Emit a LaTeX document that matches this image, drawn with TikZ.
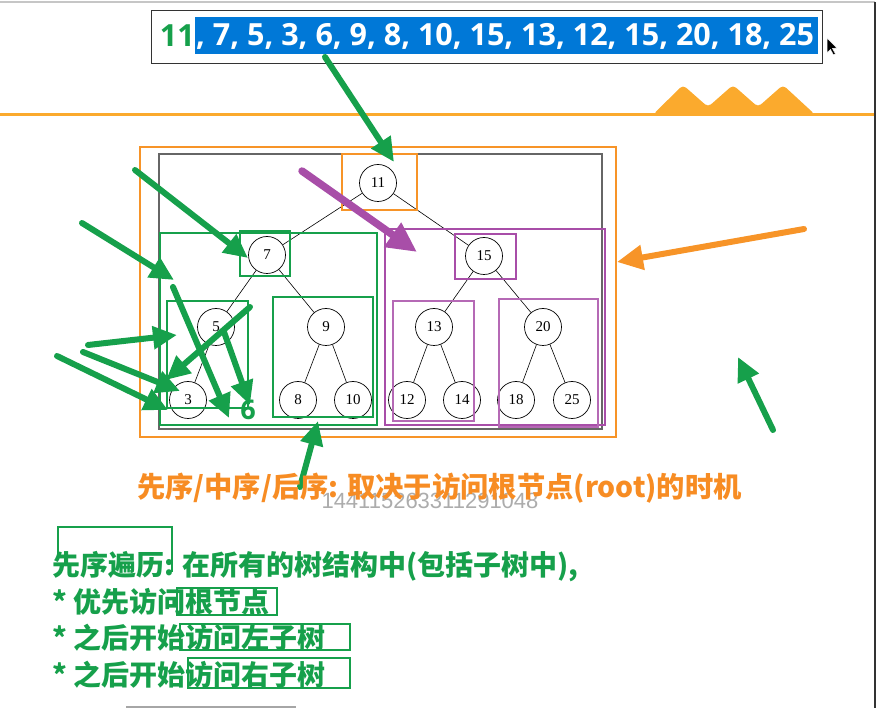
\documentclass[tikz,border=0pt]{standalone}
\usepackage{xcolor}
\usepackage{fontspec}
\setmainfont{Liberation Serif}
\newfontfamily\cjkfont{Noto Sans CJK SC}
\newfontfamily\uifont{Open Sans}
\newfontfamily\numfont{Liberation Sans}
\usepackage{tikz}
\usetikzlibrary{arrows.meta,positioning}

\definecolor{boxorange}{RGB}{247,148,40}
\definecolor{lineorange}{RGB}{251,170,45}
\definecolor{mkgreen}{RGB}{22,160,75}
\definecolor{mkpurple}{RGB}{168,78,168}
\definecolor{selblue}{RGB}{0,120,215}
\definecolor{txtorange}{RGB}{247,140,35}

\tikzset{
  tnode/.style={circle, draw, fill=white, line width=0.7pt, minimum size=37pt, inner sep=0pt, font=\fontsize{15}{15}\selectfont},
  tedge/.style={line width=0.6pt},
  gbox/.style={draw=mkgreen, line width=1.6pt},
  pbox/.style={draw=mkpurple, line width=1.6pt},
  obox/.style={draw=boxorange, line width=1.6pt},
  garrow/.style={draw=mkgreen, line width=6pt, line cap=round, -{Triangle[length=24pt,width=22pt]}},
  oarrow/.style={draw=boxorange, line width=6pt, line cap=round, -{Triangle[length=26pt,width=24pt]}},
  parrow/.style={draw=mkpurple, line width=7.5pt, line cap=round, -{Triangle[length=30pt,width=28pt]}},
  cjkline/.style={anchor=west, inner sep=0pt, font=\cjkfont\bfseries\fontsize{28}{28}\selectfont}
}

\begin{document}
\begin{tikzpicture}[x=1pt, y=-1pt]
    \useasboundingbox (0,0) rectangle (876,708);

    % Window frame
    \draw[gray!45, line width=1.5pt] (0,2) -- (875,2);
    \draw[black!80, line width=1.5pt] (875.2,2) -- (875.2,708);
    \draw[gray!70, line width=2pt] (126,706.5) -- (296,706.5);

    % Sequence box
    \node[draw=black!80, line width=1pt, minimum width=671pt, minimum height=53pt, anchor=north west, inner sep=0pt] (seqbox) at (151,10) {};
    \node[fill=selblue, minimum width=623pt, minimum height=37pt, anchor=north west, inner sep=0pt] (sel) at (195,17) {};
    \node[anchor=east, inner sep=0pt, text=mkgreen, font=\uifont\bfseries\fontsize{30.5}{30.5}\selectfont] (first) at (sel.west) {11};
    \node[anchor=west, inner sep=0pt, text=white, font=\uifont\bfseries\fontsize{30.5}{30.5}\selectfont] (rest) at ([xshift=1pt,yshift=-1pt]sel.west) {, 7, 5, 3, 6, 9, 8, 10, 15, 13, 12, 15, 20, 18, 25};
    % Mouse pointer
    \filldraw[fill=black, draw=white, line width=0.5pt] (827,38) -- (827,53) -- (830.5,49.5) -- (833.5,55) -- (835.5,54) -- (832.5,48.5) -- (837,48) -- cycle;

    % Orange rule and mountains
    \fill[lineorange, rounded corners=4pt] (653,114.5) -- (683,85) -- (708,107) -- (733,85) -- (758,107) -- (783,85) -- (815,114.5) -- cycle;
    \draw[lineorange, line width=3pt] (0,114.5) -- (874,114.5);

    % Outer boxes
    \draw[obox] (140,147) rectangle (616,437);
    \draw[black!60, line width=1.3pt] (159,154) rectangle (602,429);

    % Tree
    \node[tnode] (n11) at (378,183) {11};
    \node[tnode] (n7) at (267,255) {7};
    \node[tnode] (n15) at (484,256) {15};
    \node[tnode] (n5) at (216,327) {5};
    \node[tnode] (n9) at (326,327) {9};
    \node[tnode] (n13) at (434,327) {13};
    \node[tnode] (n20) at (543,327) {20};
    \node[tnode] (n3) at (188,400) {3};
    \node[tnode] (n8) at (298,400) {8};
    \node[tnode] (n10) at (353,400) {10};
    \node[tnode] (n12) at (407,400) {12};
    \node[tnode] (n14) at (462,400) {14};
    \node[tnode] (n18) at (516,400) {18};
    \node[tnode] (n25) at (572,400) {25};
    \foreach \a/\b in {n11/n7, n11/n15, n7/n5, n7/n9, n5/n3, n9/n8, n9/n10, n15/n13, n15/n20, n13/n12, n13/n14, n20/n18, n20/n25}
        \draw[tedge] (\a) -- (\b);

    % Subtree boxes
    \draw[obox] (342,154) rectangle (417,210);
    \draw[gbox] (160,233) rectangle (377,425);
    \draw[gbox] (240,231) rectangle (290,276);
    \draw[gbox] (167,301) rectangle (248,408);
    \draw[gbox] (273,297) rectangle (373,417);
    \draw[pbox] (385,229) rectangle (605,425);
    \draw[pbox] (455,234) rectangle (516,279);
    \draw[pbox, mkpurple!85] (393,301) rectangle (474,421);
    \draw[pbox, mkpurple!85] (499,299) rectangle (598,427);
    \node[text=mkgreen, inner sep=0pt, font=\uifont\bfseries\fontsize{27}{27}\selectfont] (six) at (248,410) {6};

    % Arrows
    \coordinate (g1s) at (325,57);   \coordinate (g1e) at (394,162);
    \coordinate (g2s) at (135,170);  \coordinate (g2e) at (248,258);
    \coordinate (g3s) at (82,223);   \coordinate (g3e) at (174,280);
    \coordinate (g4s) at (173,287);  \coordinate (g4e) at (229,418);
    \coordinate (g5s) at (250,307);  \coordinate (g5e) at (166,380);
    \coordinate (g6s) at (88,345);   \coordinate (g6e) at (177,335);
    \coordinate (g7s) at (83,352);   \coordinate (g7e) at (180,391);
    \coordinate (g8s) at (57,356);   \coordinate (g8e) at (168,410);
    \coordinate (g9s) at (224,332);  \coordinate (g9e) at (250,405);
    \coordinate (g10s) at (300,487); \coordinate (g10e) at (318,421);
    \coordinate (g11s) at (773,430); \coordinate (g11e) at (738,357);
    \coordinate (ps) at (302,171);   \coordinate (pe) at (417,252);
    \coordinate (os) at (804,229);   \coordinate (oe) at (617,262);
    \foreach \i in {1,...,11}
        \draw[garrow] (g\i s) -- (g\i e);
    \draw[parrow] (ps) -- (pe);
    \draw[oarrow] (os) -- (oe);

    % Texts below
    \node[anchor=center, inner sep=0pt, text=gray!65, font=\numfont\fontsize{22}{22}\selectfont] (stamp) at (430,501) {144115263311291048};
    \node[cjkline, text=txtorange, font=\cjkfont\bfseries\fontsize{28.3}{28.3}\selectfont] (order) at (137,488) {先序/中序/后序: 取决于访问根节点(root)的时机};

    \draw[mkgreen, line width=1.3pt] (58,555) -- (58,527) -- (172,527) -- (172,572);
    \draw[mkgreen, line width=1.3pt] (177,588) rectangle (277,615);
    \draw[mkgreen, line width=1.3pt] (180,624) rectangle (350,650);
    \draw[mkgreen, line width=1.3pt] (188,658) rectangle (350,688);
    \node[cjkline, text=mkgreen] (pre) at (52,567) {先序遍历: 在所有的树结构中(包括子树中),};
    \node[cjkline, text=mkgreen] (root) at (52,602) {* 优先访问根节点};
    \node[cjkline, text=mkgreen] (left) at (52,638) {* 之后开始访问左子树};
    \node[cjkline, text=mkgreen] (right) at (52,675) {* 之后开始访问右子树};
\end{tikzpicture}
\end{document}
